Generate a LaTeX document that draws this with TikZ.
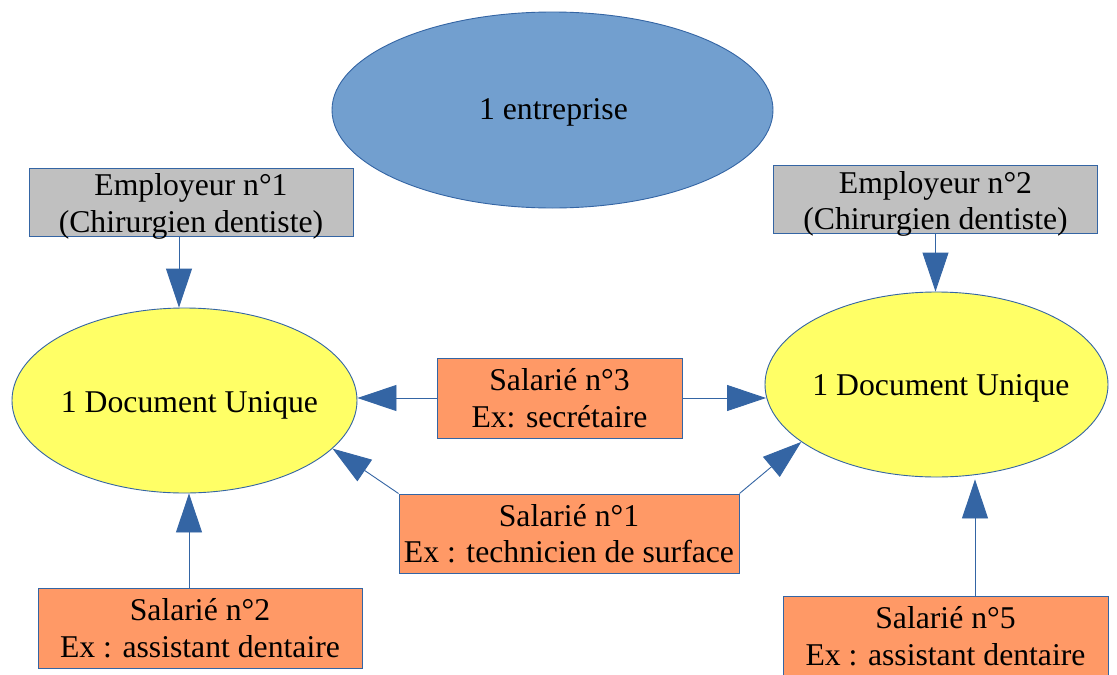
\documentclass[tikz,border=0pt]{standalone}
\usepackage{fontspec}
\setmainfont{Liberation Serif}
\usetikzlibrary{arrows.meta,shapes.geometric}

\definecolor{edgeblue}{HTML}{3465A4}
\definecolor{firmblue}{HTML}{729FCF}
\definecolor{docyellow}{HTML}{FFFF66}
\definecolor{staffor}{HTML}{FF9966}
\definecolor{bossgray}{HTML}{C0C0C0}

\tikzset{
  lbl/.style={font=\fontsize{31.7}{36.5}\selectfont, align=center, text=black, inner sep=0pt},
  oval/.style={ellipse, draw=edgeblue, line width=0.9pt, inner sep=0pt},
  boxed/.style={rectangle, draw=edgeblue, line width=1pt, inner sep=0pt},
  bossbox/.style={boxed, fill=bossgray, minimum width=324pt, minimum height=68pt},
  staffbox/.style={boxed, fill=staffor, lbl},
  arr/.style={draw=edgeblue, line width=0.9pt,
    -{Triangle[length=39pt,width=26pt,fill=edgeblue]}}
}

\begin{document}
\begin{tikzpicture}[x=1pt,y=1pt]
  \useasboundingbox (0,0) rectangle (1117,-675);
  \clip (0,0) rectangle (1117,-675);
  \fill[white] (0,0) rectangle (1117,-675);

  % the company
  \node[oval, fill=firmblue, minimum width=441pt, minimum height=196pt]
    (firm) at (552.5,-110) {};
  \node[lbl] (firmt) at ([xshift=1pt,yshift=-2.7pt]firm.center) {1 entreprise};

  % the two risk documents
  \node[oval, fill=docyellow, minimum width=345pt, minimum height=185pt]
    (doc1) at (184.5,-400.5) {};
  \node[lbl] (doc1t) at ([xshift=5pt,yshift=-5pt]doc1.center) {1 Document Unique};
  \node[oval, fill=docyellow, minimum width=343pt, minimum height=185pt]
    (doc2) at (936.5,-384.5) {};
  \node[lbl] (doc2t) at ([xshift=4.5pt,yshift=-4pt]doc2.center) {1 Document Unique};

  % employers
  \node[bossbox] (emp1) at (191,-202.5) {};
  \node[lbl] (emp1t) at ([yshift=-4pt]emp1.center) {Employeur n°1\\(Chirurgien dentiste)};
  \node[bossbox] (emp2) at (935.5,-199) {};
  \node[lbl] (emp2t) at ([yshift=-5pt]emp2.center) {Employeur n°2\\(Chirurgien dentiste)};

  % employees
  \node[staffbox, minimum width=245pt, minimum height=80pt]
    (sal3) at (559.5,-398) {Salarié n°3\\Ex: secrétaire};
  \node[staffbox, minimum width=340pt, minimum height=79pt]
    (sal1) at (569,-533.5) {Salarié n°1\\Ex : technicien de surface};
  \node[staffbox, minimum width=324pt, minimum height=80pt]
    (sal2) at (200,-628) {Salarié n°2\\Ex : assistant dentaire};
  \node[staffbox, minimum width=325pt, minimum height=80pt]
    (sal5) at (945.5,-636) {Salarié n°5\\Ex : assistant dentaire};

  % connectors
  \draw[arr] ([xshift=-12pt]emp1.south) -- ([xshift=-12pt]emp1.south |- doc1.north);
  \draw[arr] (emp2.south) -- (emp2.south |- doc2.north);
  \draw[arr] (sal3.west) -- (sal3.west -| doc1.east);
  \draw[arr] (sal3.east) -- ([xshift=1.5pt]sal3.east -| doc2.west);
  \draw[arr] (sal1.north west) -- (doc1.-18.5);
  \draw[arr] (sal1.north east) -- (doc2.203.4);
  \draw[arr] ([xshift=-11pt]sal2.north) -- ([xshift=-11pt]sal2.north |- doc1.south);
  \draw[arr] ([xshift=29.5pt]sal5.north) -- ([xshift=29.5pt,yshift=-2pt]sal5.north |- doc2.south);
\end{tikzpicture}
\end{document}
